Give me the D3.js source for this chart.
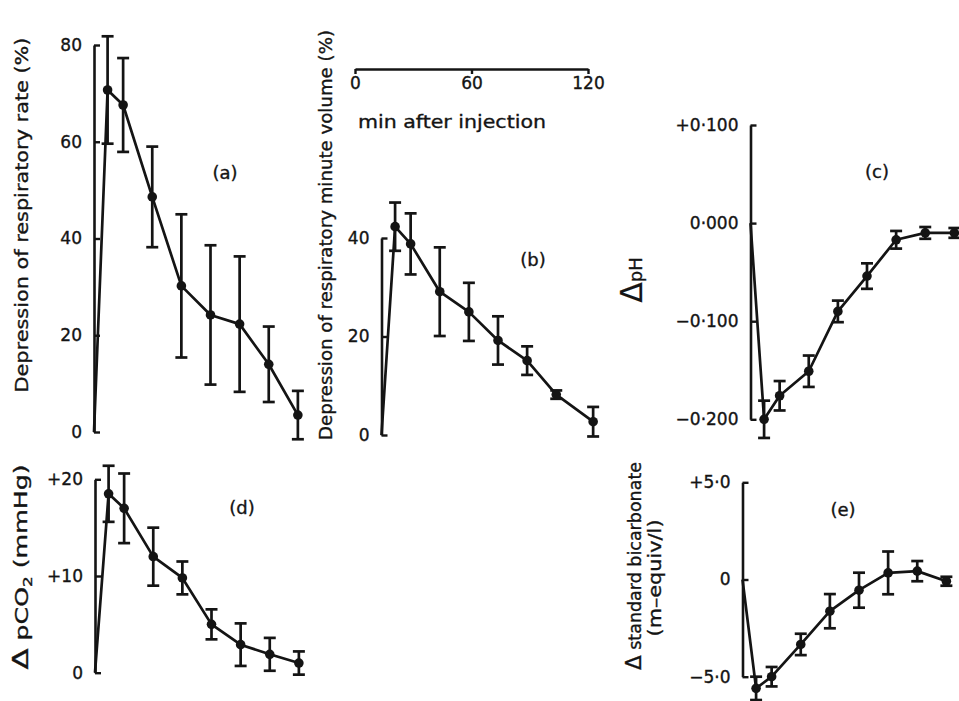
<!DOCTYPE html>
<html><head><meta charset="utf-8">
<script src="https://cdn.jsdelivr.net/npm/d3@7"></script>
<style>
body{margin:0;background:#fff}
svg{display:block}
text{font-family:"DejaVu Sans",sans-serif;fill:#141414;stroke:#141414;stroke-width:0.35px}
</style>
</head><body>
<svg id="chart" width="959" height="701"></svg>
<script>
// ---- data ----
const times  = [7, 15, 30, 45, 60, 75, 90, 105];   // min after injection
const timesB = [7, 15, 30, 45, 60, 75, 90, 109];

const rateMean = [70.7, 67.6, 48.6, 30.2, 24.2, 22.3, 14.0, 3.5];
const rateErr  = [11.1, 9.7, 10.4, 14.8, 14.4, 14.0, 7.8, 5.0];

const volMean = [42.3, 38.8, 29.1, 25.0, 19.2, 15.1, 8.2, 2.7];
const volErr  = [4.9, 6.2, 9.0, 5.9, 4.9, 2.9, 0.85, 3.0];

const phMean = [-0.200, -0.176, -0.151, -0.090, -0.054, -0.017, -0.010, -0.010];
const phErr  = [0.019, 0.015, 0.016, 0.011, 0.013, 0.009, 0.006, 0.005];

const pco2Mean = [18.5, 17.0, 12.0, 9.8, 5.0, 2.9, 1.9, 1.0];
const pco2Err  = [2.9, 3.6, 3.0, 1.7, 1.55, 2.2, 1.7, 1.2];

const bicMean = [-5.6, -5.0, -3.34, -1.63, -0.55, 0.34, 0.43, -0.09];
const bicErr  = [0.6, 0.5, 0.55, 0.88, 0.9, 1.1, 0.52, 0.23];

const scaleTicks = [0, 60, 120];
const ticksA = [0, 20, 40, 60, 80],   labelsA = ["0", "20", "40", "60", "80"];
const ticksB = [0, 20, 40],           labelsB = ["0", "20", "40"];
const ticksC = [-0.2, -0.1, 0, 0.1],  labelsC = ["\u22120\u00b7200", "\u22120\u00b7100", "0\u00b7000", "+0\u00b7100"];
const ticksD = [0, 10, 20],           labelsD = ["0", "+10", "+20"];
const ticksE = [-5, 0, 5],            labelsE = ["\u22125\u00b70", "0", "+5\u00b70"];

// ---- drawing ----
const svg = d3.select("#chart");
const INK = "#141414";
const PX_PER_MIN = (588 - 355) / 120;

// time scale bar
const tScale = d3.scaleLinear().domain([0, 120]).range([355, 588]);
const bar = svg.append("g").attr("transform", "translate(0,69)")
  .call(d3.axisBottom(tScale).tickValues(scaleTicks).tickSizeInner(5).tickSizeOuter(0).tickPadding(3).tickFormat(d3.format("d")));
bar.select(".domain").attr("stroke", INK).attr("stroke-width", 2.6);
bar.selectAll(".tick line").attr("stroke", INK).attr("stroke-width", 2.4);
bar.selectAll(".tick text").attr("font-size", 17).attr("fill", INK).attr("font-family", "DejaVu Sans");
svg.append("text").attr("x", 358).attr("y", 128).attr("font-size", 18)
  .attr("textLength", 188).attr("lengthAdjust", "spacingAndGlyphs").text("min after injection");

const panels = [
  {id: "(a)", x0: 94,   yDom: [0, 80],     yRng: [432, 45],      ticks: ticksA, labels: labelsA, t: times,  m: rateMean, e: rateErr, lab: [225, 173]},
  {id: "(b)", x0: 381.5,yDom: [0, 40],     yRng: [435, 238],     ticks: ticksB, labels: labelsB, t: timesB, m: volMean,  e: volErr,  lab: [533, 260]},
  {id: "(c)", x0: 750.5,yDom: [-0.2, 0.1], yRng: [419.3, 125],   ticks: ticksC, labels: labelsC, t: times,  m: phMean,   e: phErr,   lab: [877, 172]},
  {id: "(d)", x0: 95,   yDom: [0, 20],     yRng: [672.7, 479.3], ticks: ticksD, labels: labelsD, t: times,  m: pco2Mean, e: pco2Err, lab: [242, 508]},
  {id: "(e)", x0: 742.5,yDom: [-5, 5],     yRng: [676.7, 482.3], ticks: ticksE, labels: labelsE, t: times,  m: bicMean,  e: bicErr,  lab: [843, 510]}
];

panels.forEach(p => {
  const x = d3.scaleLinear().domain([0, 120]).range([p.x0, p.x0 + 120 * PX_PER_MIN]);
  const y = d3.scaleLinear().domain(p.yDom).range(p.yRng);
  const g = svg.append("g");

  // axis
  const ax = g.append("g").attr("transform", `translate(${x(0)},0)`)
    .call(d3.axisLeft(y).tickValues(p.ticks).tickSizeInner(-6).tickSizeOuter(0).tickPadding(12)
      .tickFormat((d, i) => p.labels[i]));
  ax.select(".domain").attr("stroke", INK).attr("stroke-width", 2.6);
  ax.selectAll(".tick line").attr("stroke", INK).attr("stroke-width", 2.4);
  ax.selectAll(".tick text").attr("font-size", 17).attr("fill", INK).attr("font-family", "DejaVu Sans");

  const pts = p.t.map((t, i) => ({t, v: p.m[i], e: p.e[i]}));

  // connecting line starting at the injection time (t = 0, change = 0)
  const line = d3.line().x(d => x(d.t)).y(d => y(d.v));
  g.append("path").datum([{t: 0, v: 0}].concat(pts))
    .attr("d", line).attr("fill", "none").attr("stroke", INK).attr("stroke-width", 2.7)
    .attr("stroke-linejoin", "round");

  // error bars
  const eb = g.selectAll(".eb").data(pts).join("g");
  eb.append("line").attr("x1", d => x(d.t)).attr("x2", d => x(d.t))
    .attr("y1", d => y(d.v - d.e)).attr("y2", d => y(d.v + d.e))
    .attr("stroke", INK).attr("stroke-width", 2.7);
  [-1, 1].forEach(s => {
    eb.append("line").attr("x1", d => x(d.t) - 6).attr("x2", d => x(d.t) + 6)
      .attr("y1", d => y(d.v + s * d.e)).attr("y2", d => y(d.v + s * d.e))
      .attr("stroke", INK).attr("stroke-width", 2.7);
  });

  // markers
  g.selectAll(".pt").data(pts).join("circle")
    .attr("cx", d => x(d.t)).attr("cy", d => y(d.v)).attr("r", 4.8).attr("fill", INK);

  // panel letter
  svg.append("text").attr("x", p.lab[0]).attr("y", p.lab[1]).attr("dy", "0.35em")
    .attr("text-anchor", "middle").attr("font-size", 18).text(p.id);
});

// axis titles (rotated)
function vtext(cx, cy, len, size, build) {
  const t = svg.append("text").attr("transform", `translate(${cx},${cy}) rotate(-90)`)
    .attr("text-anchor", "middle").attr("dy", "0.35em").attr("font-size", size);
  build(t);
  if (len) t.attr("textLength", len).attr("lengthAdjust", "spacingAndGlyphs");
  return t;
}
vtext(22, 215, 355, 18, t => t.text("Depression of respiratory rate (%)"));
vtext(326, 235, 410, 18, t => t.text("Depression of respiratory minute volume (%)"));
vtext(636, 280, null, 18, t => {
  t.append("tspan").attr("font-size", 30).attr("stroke-width", 0.2).text("\u0394");
  t.append("tspan").attr("font-size", 18).text("pH");
});
vtext(22, 567, 205, 18, t => {
  t.append("tspan").attr("font-size", 22).text("\u0394");
  t.append("tspan").text(" pCO");
  t.append("tspan").attr("font-size", 12).attr("dy", "0.3em").text("2");
  t.append("tspan").attr("dy", "-0.3em").text("  (mmHg)");
});
vtext(635, 566, 208, 18, t => {
  t.append("tspan").attr("font-size", 22).text("\u0394");
  t.append("tspan").text(" standard bicarbonate");
});
vtext(655, 578, 117, 18, t => t.text("(m\u2013equiv/l)"));
</script>
</body></html>
